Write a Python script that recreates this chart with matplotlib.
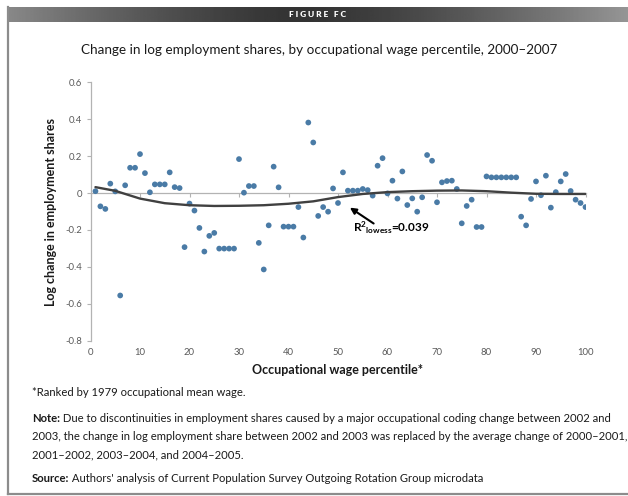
import matplotlib
matplotlib.use("Agg")
import matplotlib.pyplot as plt
import numpy as np
from matplotlib.lines import Line2D

plt.rcParams["font.family"] = ["Lato", "DejaVu Sans"]
plt.rcParams["mathtext.fontset"] = "custom"
plt.rcParams["mathtext.rm"] = "Lato"
plt.rcParams["mathtext.bf"] = "Lato:bold"

# occupational wage percentile (1..100) and change in log employment share
percentile = list(range(1, 101))
log_change = [
    0.01, -0.072, -0.086, 0.051, 0.009, -0.555, 0.042, 0.137, 0.137, 0.211,
    0.108, 0.004, 0.047, 0.047, 0.047, 0.112, 0.032, 0.027, -0.293, -0.057,
    -0.095, -0.189, -0.317, -0.232, -0.216, -0.301, -0.301, -0.301, -0.301, 0.184,
    0.002, 0.038, 0.038, -0.27, -0.414, -0.175, 0.143, 0.031, -0.182, -0.182,
    -0.182, -0.076, -0.241, 0.382, 0.274, -0.124, -0.076, -0.101, 0.025, -0.054,
    0.112, 0.013, 0.013, 0.013, 0.022, 0.016, -0.014, 0.148, 0.189, -0.002,
    0.067, -0.03, 0.117, -0.065, -0.029, -0.101, -0.023, 0.206, 0.175, -0.05,
    0.058, 0.065, 0.067, 0.022, -0.164, -0.07, -0.036, -0.184, -0.184, 0.09,
    0.085, 0.085, 0.085, 0.085, 0.085, 0.085, -0.128, -0.175, -0.032, 0.063,
    -0.012, 0.094, -0.079, 0.005, 0.063, 0.103, 0.011, -0.036, -0.054, -0.076,
]

# lowess fit
fit_x = [1, 5, 10, 15, 20, 25, 30, 35, 40, 45, 50, 55, 60, 65, 70, 75, 80, 85, 90, 95, 100]
fit_y = [0.032, 0.012, -0.03, -0.055, -0.066, -0.07, -0.069, -0.066, -0.058, -0.045,
         -0.022, -0.005, 0.005, 0.01, 0.013, 0.014, 0.01, 0.002, -0.004, -0.005, -0.005]

x_ticks = list(range(0, 101, 10))
y_ticks = [0.6, 0.4, 0.2, 0, -0.2, -0.4, -0.6, -0.8]
y_tick_labels = ["0.6", "0.4", "0.2", "0", "-0.2", "-0.4", "-0.6", "-0.8"]

W, H = 628, 496
fig = plt.figure(figsize=(W / 100, H / 100), dpi=100)

# header bar with gray gradient
bar = fig.add_axes([7 / W, 1 - 22 / H, 1 - 7 / W, 15 / H])
t = np.linspace(-1, 1, 400)
shade = 0.2 + 0.36 * np.abs(t + 0.05) ** 1.4
bar.imshow(shade[np.newaxis, :], cmap="gray", vmin=0, vmax=1, aspect="auto",
           extent=[0, 1, 0, 1])
bar.set_axis_off()
bar.text(0.5, 0.5, "F I G U R E   F C", color="white", fontsize=6,
         fontweight="heavy", ha="center", va="center", transform=bar.transAxes)

# box frame
frame_col = "#8c8c8c"
fig.add_artist(Line2D([8 / W, 8 / W], [1 - 7 / H, 1 - 494 / H], color=frame_col, lw=1.6,
                      transform=fig.transFigure))
fig.add_artist(Line2D([8 / W, 1], [1 - 494 / H, 1 - 494 / H], color=frame_col, lw=1.6,
                      transform=fig.transFigure))

fig.text(319 / W, 1 - 50 / H,
         "Change in log employment shares, by occupational wage percentile, 2000\u20132007",
         ha="center", va="center", fontsize=9.7, color="#1a1a1a")

ax = fig.add_axes([90.5 / W, 1 - 340.7 / H, 495 / W, 258.4 / H])
ax.scatter(percentile, log_change, s=17, color="#4a7ba6", edgecolors="none", zorder=3)
ax.plot(fit_x, fit_y, color="#404040", lw=1.7, zorder=4, solid_capstyle="round")

ax.set_xlim(0, 100)
ax.set_ylim(-0.8, 0.6)

axis_col = "#b3b3b3"
for side in ["top", "right"]:
    ax.spines[side].set_visible(False)
ax.spines["left"].set_color(axis_col)
ax.spines["left"].set_linewidth(0.9)
ax.spines["bottom"].set_position(("data", 0))
ax.spines["bottom"].set_color(axis_col)
ax.spines["bottom"].set_linewidth(0.9)

ax.set_yticks(y_ticks)
ax.set_yticklabels(y_tick_labels)
ax.tick_params(axis="y", length=3, width=0.8, color=axis_col, labelsize=6.8,
               labelcolor="#595959", pad=3)
ax.set_xticks(x_ticks)
ax.tick_params(axis="x", length=3, width=0.8, color=axis_col, labelbottom=False)

# tick labels sit below the plot area, the axis line crosses at zero
sec = ax.secondary_xaxis(0)
sec.set_xticks(x_ticks)
sec.spines["bottom"].set_visible(False)
sec.tick_params(length=0, labelsize=6.8, labelcolor="#595959", pad=5)
sec.set_xlabel("Occupational wage percentile*", fontsize=9, fontweight="bold",
               color="#1a1a1a", labelpad=5)

ax.set_ylabel("Log change in employment shares", fontsize=9, fontweight="bold",
              color="#1a1a1a", labelpad=6)

ax.annotate("", xy=(52.4, -0.079), xytext=(57.2, -0.165),
            arrowprops=dict(arrowstyle="-|>", color="black", lw=1.5, mutation_scale=9,
                            shrinkA=0, shrinkB=0))
ax.text(53.0, -0.19, r"$\mathbf{R^{2}{}_{lowess}}$=0.039", fontsize=8.5,
        fontweight="bold", ha="left", va="center", color="black")

foot = 8.1
fig.text(32 / W, 1 - 393 / H, "*Ranked by 1979 occupational mean wage.",
         fontsize=foot, va="center", color="#1a1a1a")
notes = [
    (419, "Note:", " Due to discontinuities in employment shares caused by a major occupational coding change between 2002 and"),
    (437, "", "2003, the change in log employment share between 2002 and 2003 was replaced by the average change of 2000\u20132001,"),
    (455, "", "2001\u20132002, 2003\u20132004, and 2004\u20132005."),
    (479, "Source:", " Authors' analysis of Current Population Survey Outgoing Rotation Group microdata"),
]
for ypix, head, body in notes:
    if head:
        txt = fig.text(32 / W, 1 - ypix / H, head, fontsize=foot, fontweight="bold",
                       va="center", color="#1a1a1a")
        fig.canvas.draw()
        bb = txt.get_window_extent()
        x0 = bb.x1 / W
    else:
        x0 = 32 / W
    fig.text(x0, 1 - ypix / H, body, fontsize=foot, va="center", color="#1a1a1a")

fig.savefig("out.png", dpi=100)
